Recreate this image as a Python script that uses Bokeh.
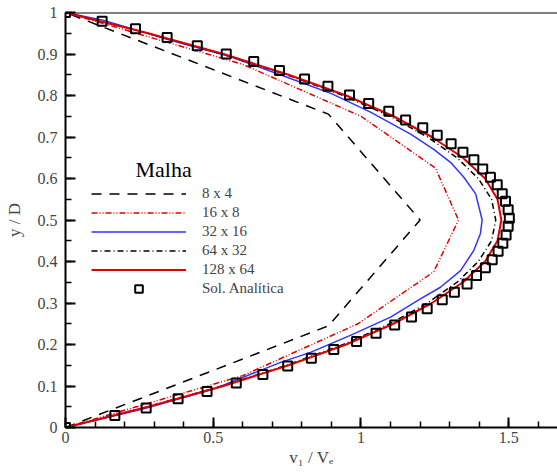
from bokeh.plotting import figure
from bokeh.models import Range1d, SingleIntervalTicker, NumeralTickFormatter, Legend, LegendItem, Span, Label
from bokeh.embed import file_html
from bokeh.resources import INLINE

# ---- data ----
m8_x = [0, 0.89, 1.20, 0.89, 0]
m8_y = [0, 0.245, 0.50, 0.755, 1.0]

m16_x = [0, 0.60, 0.99, 1.246, 1.33, 1.252, 1.00, 0.60, 0]
m16_y = [0, 0.125, 0.25, 0.375, 0.50, 0.625, 0.75, 0.875, 1.0]

m32_y = [0, 0.045, 0.093, 0.157, 0.181, 0.222, 0.266, 0.310, 0.338, 0.378, 0.427, 0.467, 0.5,
         0.563, 0.603, 0.639, 0.670, 0.707, 0.760, 0.804, 0.844, 0.896, 0.933, 0.981, 1.0]
m32_x = [0, 0.265, 0.502, 0.728, 0.829, 0.964, 1.10, 1.201, 1.269, 1.337, 1.382, 1.404, 1.41,
         1.388, 1.348, 1.303, 1.246, 1.168, 1.032, 0.902, 0.75, 0.547, 0.355, 0.13, 0]

yy = [0, 0.05, 0.10, 0.15, 0.20, 0.25, 0.30, 0.35, 0.40, 0.45, 0.50,
      0.55, 0.60, 0.65, 0.70, 0.75, 0.80, 0.85, 0.90, 0.95, 1.0]
m64_x = [0, 0.278, 0.53, 0.748, 0.94, 1.098, 1.225, 1.325, 1.397, 1.442, 1.456,
         1.442, 1.397, 1.325, 1.225, 1.098, 0.94, 0.748, 0.53, 0.278, 0]
m128_x = [0, 0.28, 0.535, 0.755, 0.95, 1.11, 1.24, 1.345, 1.42, 1.462, 1.475,
          1.462, 1.42, 1.345, 1.24, 1.11, 0.95, 0.755, 0.535, 0.28, 0]

sol_x = [0, 0.124, 0.237, 0.344, 0.446, 0.544, 0.637, 0.724, 0.809, 0.888, 0.961, 1.026, 1.094,
         1.151, 1.209, 1.258, 1.305, 1.345, 1.382, 1.412, 1.438, 1.461, 1.478, 1.489, 1.498, 1.502,
         1.498, 1.491, 1.480, 1.464, 1.444, 1.421, 1.391, 1.359, 1.316, 1.275, 1.224, 1.171, 1.114,
         1.051, 0.985, 0.908, 0.832, 0.752, 0.668, 0.578, 0.479, 0.381, 0.273, 0.167, 0]
sol_y = [1.0, 0.979, 0.961, 0.940, 0.920, 0.900, 0.882, 0.860, 0.840, 0.822, 0.801, 0.781, 0.762,
         0.741, 0.722, 0.704, 0.684, 0.663, 0.645, 0.623, 0.603, 0.585, 0.563, 0.545, 0.525, 0.504,
         0.485, 0.464, 0.444, 0.425, 0.404, 0.385, 0.366, 0.346, 0.326, 0.308, 0.286, 0.266, 0.247,
         0.227, 0.207, 0.188, 0.167, 0.148, 0.128, 0.107, 0.087, 0.069, 0.047, 0.029, 0]

labels = ["8 x 4", "16 x 8", "32 x 16", "64 x 32", "128 x 64", "Sol. Analítica"]

FONT = "Liberation Serif"
GREY = "#444444"

p = figure(width=557, height=473, output_backend="svg", toolbar_location=None,
           x_range=Range1d(0, 1.665), y_range=Range1d(0, 1),
           min_border_left=65, min_border_right=0, min_border_top=12, min_border_bottom=46)
p.outline_line_color = None
p.xgrid.visible = False
p.ygrid.visible = False
p.background_fill_color = "white"

for ax in (p.xaxis[0], p.yaxis[0]):
    ax.axis_line_width = 2
    ax.axis_line_color = "black"
    ax.major_tick_in = 10
    ax.major_tick_out = 0
    ax.minor_tick_in = 6
    ax.minor_tick_out = 0
    ax.major_tick_line_width = 2
    ax.minor_tick_line_width = 1.5
    ax.major_label_text_font = FONT
    ax.major_label_text_font_size = "16px"
    ax.major_label_text_color = GREY
    ax.axis_label_text_font = FONT
    ax.axis_label_text_font_size = "17px"
    ax.axis_label_text_font_style = "normal"
    ax.axis_label_text_color = GREY
    ax.formatter = NumeralTickFormatter(format="0.[0]")

p.xaxis[0].ticker = SingleIntervalTicker(interval=0.5, num_minor_ticks=5)
p.yaxis[0].ticker = SingleIntervalTicker(interval=0.1, num_minor_ticks=2)
p.xaxis[0].major_label_standoff = 4
p.yaxis[0].major_label_standoff = 8
p.xaxis[0].axis_label = "v₁ / Vₑ"
p.yaxis[0].axis_label = "y / D"
p.xaxis[0].axis_label_standoff = 2
p.yaxis[0].axis_label_standoff = 11

p.add_layout(Span(location=1.0, dimension="width", line_color="black", line_width=2))

r8 = p.line(m8_x, m8_y, line_color="black", line_width=1.5, line_dash="10 8")
r16 = p.line(m16_x, m16_y, line_color="#e00000", line_width=1.5, line_dash="6 2 1 2 1 2")
r32 = p.line(m32_x, m32_y, line_color="#3333ff", line_width=1.5)
r64 = p.line(m64_x, yy, line_color="black", line_width=1.5, line_dash="6 3 1 3")
r128 = p.line(m128_x, yy, line_color="#e00000", line_width=2)
rs = p.scatter(sol_x, sol_y, marker="square", size=9, line_color="black", line_width=2,
               fill_color=None)

legend = Legend(items=[LegendItem(label=l, renderers=[r]) for l, r in
                       zip(labels, [r8, r16, r32, r64, r128, rs])],
                location=(26, 129), orientation="vertical")
legend.glyph_width = 95
legend.glyph_height = 19
legend.label_height = 19
legend.spacing = 0
legend.padding = 0
legend.margin = 0
legend.label_standoff = 16
legend.border_line_color = None
legend.background_fill_alpha = 0
legend.label_text_font = FONT
legend.label_text_font_size = "15px"
legend.label_text_color = GREY
p.add_layout(legend)

p.add_layout(Label(x=0.237, y=0.622, text="Malha", text_font=FONT, text_font_size="22px",
                   text_color="black", text_baseline="alphabetic"))

open("out.html", "w").write(file_html(p, INLINE))
